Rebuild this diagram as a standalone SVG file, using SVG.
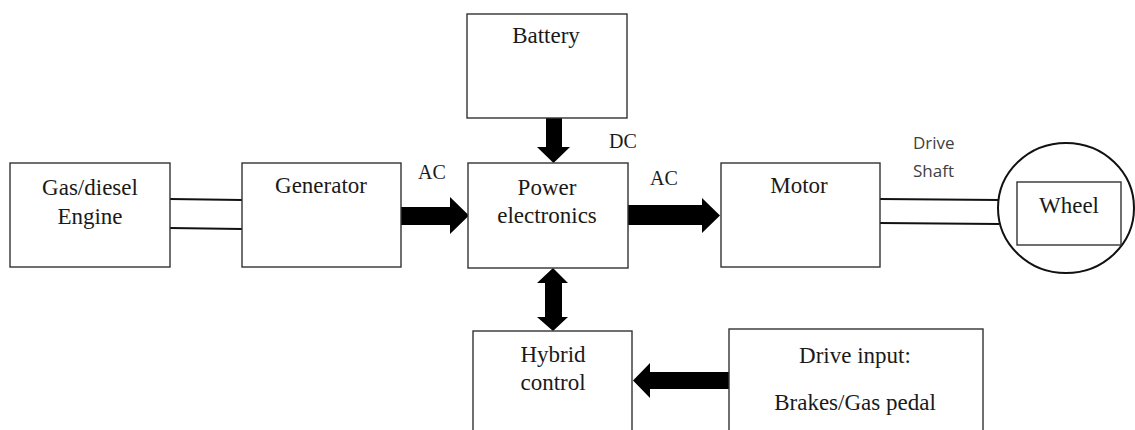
<svg xmlns="http://www.w3.org/2000/svg" width="1135" height="430" viewBox="0 0 1135 430">
<style>
.box{fill:#fff;stroke:#333;stroke-width:1.4}
.t{font-family:"Liberation Serif","Times New Roman",serif;font-size:23px;fill:#1a1a1a;text-anchor:middle}
.lbl{font-family:"Liberation Serif","Times New Roman",serif;font-size:20px;fill:#1a1a1a}
.sans{font-family:"Open Sans","Liberation Sans",sans-serif;font-size:17px;fill:#404040}
.shaft{stroke:#111;stroke-width:2;fill:none}
.arr{fill:#000}
</style>
<rect width="1135" height="430" fill="#fff"/>
<g id="connectors">
  <line class="shaft" x1="170" y1="199" x2="242" y2="200"/>
  <line class="shaft" x1="170" y1="228" x2="242" y2="229"/>
  <line class="shaft" x1="880" y1="199" x2="999" y2="200"/>
  <line class="shaft" x1="880" y1="223" x2="999" y2="224"/>
  <polygon class="arr" points="401,207 450,207 450,197 469,215.5 450,234 450,225 401,225"/>
  <polygon class="arr" points="628,205 702,205 702,198 720,215.5 702,233 702,225 628,225"/>
  <polygon class="arr" points="546,118 562,118 562,147 570,147 553.5,163 537,147 546,147"/>
  <polygon class="arr" points="553,268 568,283 562,283 562,317 568,317 553,331 537,317 545,317 545,283 537,283"/>
  <polygon class="arr" points="729,372 650,372 650,363 633,380.5 650,398 650,389 729,389"/>
  <text class="lbl" x="418" y="179">AC</text>
  <text class="lbl" x="650" y="185">AC</text>
  <text class="lbl" x="609" y="148">DC</text>
  <text class="sans" x="913" y="149">Drive</text>
  <text class="sans" x="913" y="177">Shaft</text>
</g>
<g id="engine">
  <rect class="box" x="10" y="163" width="160" height="104"/>
  <text class="t" x="90" y="195">Gas/diesel</text>
  <text class="t" x="90" y="224">Engine</text>
</g>
<g id="generator">
  <rect class="box" x="242" y="163" width="159" height="104"/>
  <text class="t" x="321" y="193">Generator</text>
</g>
<g id="battery">
  <rect class="box" x="467" y="14" width="160" height="104"/>
  <text class="t" x="546" y="43">Battery</text>
</g>
<g id="power">
  <rect class="box" x="468" y="163" width="160" height="105"/>
  <text class="t" x="547" y="195">Power</text>
  <text class="t" x="547" y="223">electronics</text>
</g>
<g id="motor">
  <rect class="box" x="721" y="163" width="159" height="104"/>
  <text class="t" x="799" y="193">Motor</text>
</g>
<g id="wheel">
  <ellipse cx="1066" cy="208" rx="68" ry="65" fill="#fff" stroke="#111" stroke-width="2"/>
  <rect class="box" x="1017" y="182" width="104" height="63"/>
  <text class="t" x="1069" y="213">Wheel</text>
</g>
<g id="hybrid">
  <rect class="box" x="473" y="331" width="159" height="110"/>
  <text class="t" x="553" y="362">Hybrid</text>
  <text class="t" x="553" y="390">control</text>
</g>
<g id="drive-input">
  <rect class="box" x="729" y="329" width="254" height="112"/>
  <text class="t" x="855" y="363">Drive input:</text>
  <text class="t" x="855" y="410">Brakes/Gas pedal</text>
</g>
</svg>
